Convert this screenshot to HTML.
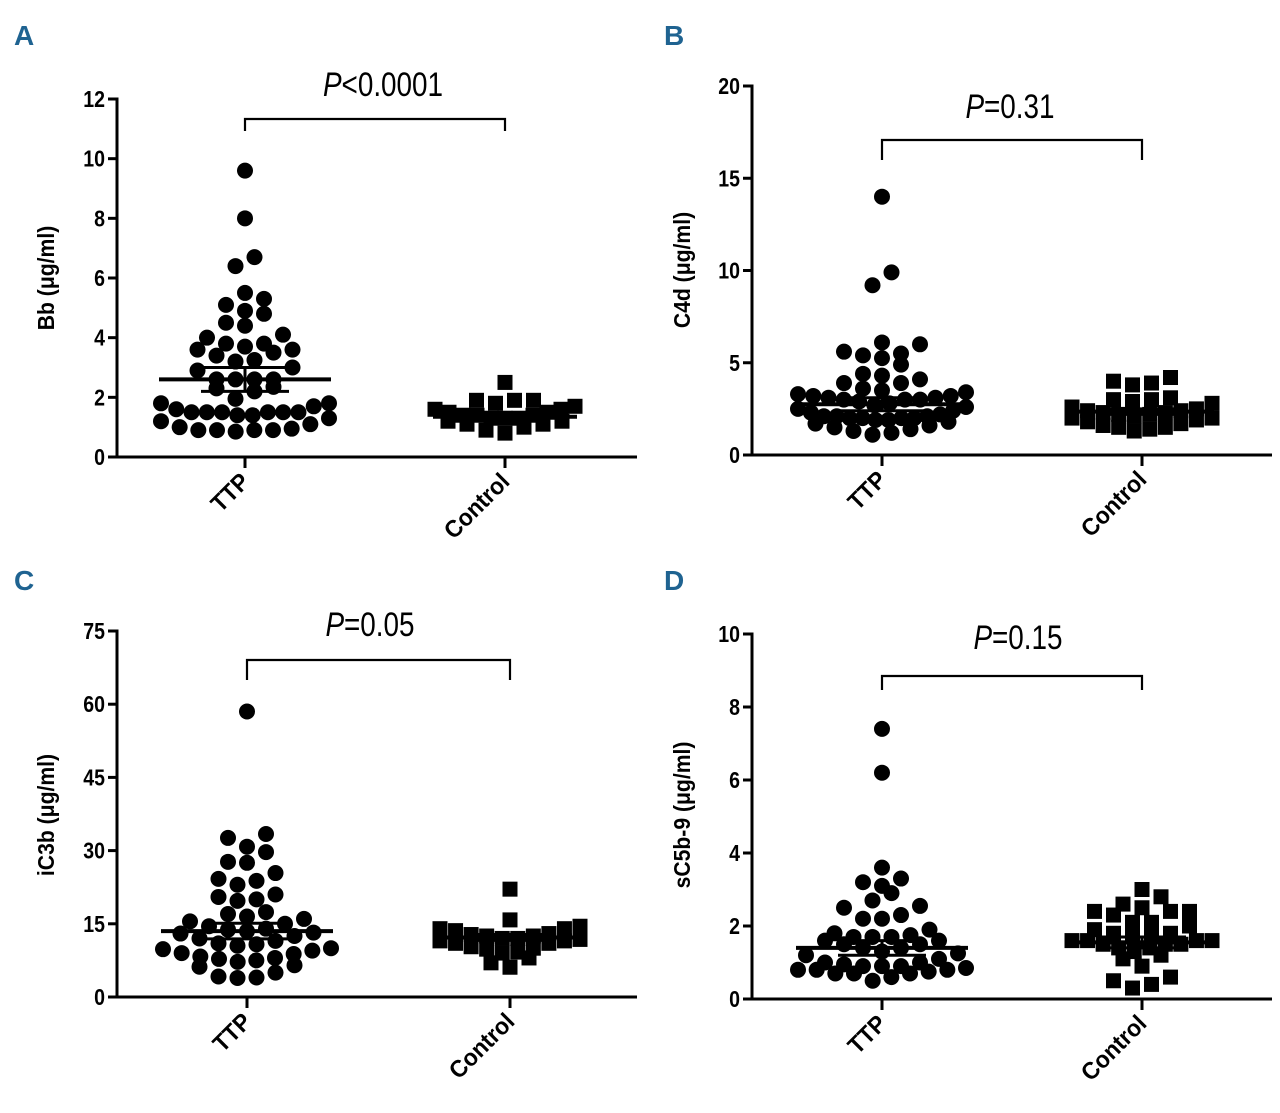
<!DOCTYPE html>
<html><head><meta charset="utf-8"><style>
html,body{margin:0;padding:0;background:#fff;}
svg{display:block;font-family:"Liberation Sans",sans-serif;}
</style></head><body>
<svg id="fig" width="1280" height="1113" viewBox="0 0 1280 1113"></svg>
<script>
// ---- data ----
const categories = ["TTP", "Control"];
const panelLetters = ["A", "B", "C", "D"];
const yTitles = ["Bb (\u03bcg/ml)", "C4d (\u03bcg/ml)", "iC3b (\u03bcg/ml)", "sC5b-9 (\u03bcg/ml)"];
const pLabels = ["<0.0001", "=0.31", "=0.05", "=0.15"];
const yMaxes = [12, 20, 75, 10];
const tickA = [0, 2, 4, 6, 8, 10, 12];
const tickB = [0, 5, 10, 15, 20];
const tickC = [0, 15, 30, 45, 60, 75];
const tickD = [0, 2, 4, 6, 8, 10];
const ttpA = [9.6,8.0,6.7,6.4,5.5,5.3,5.1,4.9,4.8,4.5,4.4,4.1,4.0,3.8,3.8,3.7,3.6,3.6,3.5,3.4,3.25,3.2,3.0,2.9,2.6,2.6,2.6,2.6,2.35,2.3,2.2,1.95,1.8,1.8,1.7,1.6,1.5,1.5,1.5,1.5,1.5,1.5,1.4,1.4,1.3,1.2,1.1,1.0,0.95,0.9,0.9,0.9,0.9,0.85];
const ctlA = [2.5,1.9,1.9,1.9,1.8,1.7,1.6,1.6,1.5,1.5,1.4,1.4,1.4,1.3,1.3,1.3,1.2,1.2,1.1,1.1,1.0,0.9,0.8];
const ttpB = [14,9.9,9.2,6.1,6.0,5.6,5.5,5.4,5.25,4.9,4.4,4.3,4.1,3.9,3.9,3.6,3.5,3.4,3.3,3.2,3.2,3.1,3.1,3.0,3.0,3.0,2.9,2.8,2.7,2.6,2.5,2.4,2.3,2.2,2.1,2.1,2.1,2.0,2.0,2.0,2.0,1.9,1.9,1.8,1.7,1.6,1.5,1.4,1.3,1.2,1.1];
const ctlB = [4.2,4.0,3.9,3.8,3.1,3.0,3.0,2.9,2.8,2.6,2.5,2.4,2.4,2.3,2.3,2.2,2.2,2.1,2.0,2.0,1.9,1.8,1.7,1.6,1.5,1.5,1.4,1.3];
const ttpC = [58.5,33.4,32.6,30.8,29.7,27.7,27.5,25.4,24.2,23.8,23,21,20.5,20,19.7,17.4,17,16.5,16,15.5,15,14.5,14,13.8,13.5,13.2,13,12.5,12,11.5,11,10.8,10.5,10,9.8,9.5,9,8.8,8.3,8,7.8,7.5,7.2,6.5,6.2,5,4.2,4,3.9];
const ctlC = [22.1,15.8,14.5,14,14,13.6,13,12.8,12.5,12.5,12,12,11.8,11.5,11.5,11,11,10.3,10,9.8,9.2,9,8,7,6.1];
const ttpD = [7.4,6.2,3.6,3.3,3.2,3.1,2.9,2.7,2.55,2.5,2.3,2.2,2.2,1.9,1.8,1.75,1.7,1.7,1.7,1.6,1.6,1.5,1.5,1.4,1.4,1.3,1.25,1.2,1.1,1.0,1.0,0.95,0.9,0.9,0.9,0.85,0.8,0.8,0.8,0.75,0.7,0.7,0.7,0.6,0.5];
const ctlD = [3.0,2.8,2.6,2.5,2.4,2.4,2.4,2.3,2.1,2.1,2.0,1.9,1.8,1.8,1.7,1.7,1.6,1.6,1.6,1.6,1.5,1.5,1.5,1.4,1.4,1.3,1.2,1.1,0.9,0.6,0.5,0.4,0.3];
// printed summary statistics (mean, SEM)
const meansTTP = [2.6, 2.75, 13.5, 1.4];
const meansCtl = [1.35, 2.35, 12.2, 1.55];
const semTTP = [0.4, 0.35, 1.6, 0.2];
const semCtl = [0.1, 0.15, 0.6, 0.15];

// ---- layout ----
const NS = "http://www.w3.org/2000/svg";
const svg = document.getElementById("fig");
function mk(tag, attrs, parent) {
  const e = document.createElementNS(NS, tag);
  for (const k in attrs) e.setAttribute(k, attrs[k]);
  (parent || svg).appendChild(e);
  return e;
}
const layouts = [
  {ax: 117, y0: 457, yTop: 99, x1: 245, x2: 505, xEnd: 637, brY: 119, brDrop: 12, pX: 383, pY: 96, letX: 14, letY: 45, titX: 56, titY: 278},
  {ax: 752, y0: 455, yTop: 86, x1: 882, x2: 1142, xEnd: 1272, brY: 140, brDrop: 20, pX: 1010, pY: 118, letX: 664, letY: 45, titX: 692, titY: 270},
  {ax: 117, y0: 997, yTop: 631, x1: 247, x2: 510, xEnd: 637, brY: 660, brDrop: 20, pX: 370, pY: 636, letX: 14, letY: 590, titX: 56, titY: 815},
  {ax: 752, y0: 999, yTop: 634, x1: 882, x2: 1142, xEnd: 1272, brY: 676, brDrop: 14, pX: 1018, pY: 649, letX: 664, letY: 590, titX: 692, titY: 815}
];
const ticksAll = [tickA, tickB, tickC, tickD];
const seriesAll = [[ttpA, ctlA], [ttpB, ctlB], [ttpC, ctlC], [ttpD, ctlD]];
const meansAll = [meansTTP, meansCtl];
const semAll = [semTTP, semCtl];

function swarm(vals, yScale, binH, step, maxHalf) {
  const sorted = vals.slice().sort((a, b) => a - b);
  const bins = [];
  sorted.forEach(v => {
    const y = yScale(v);
    const last = bins[bins.length - 1];
    if (last && Math.abs(last.y0 - y) < binH) last.items.push(y);
    else bins.push({y0: y, items: [y]});
  });
  const pts = [];
  bins.forEach(b => {
    const n = b.items.length;
    let s = step;
    if ((n - 1) * s / 2 > maxHalf) s = 2 * maxHalf / (n - 1);
    const offs = [];
    for (let k = 0; k < n; k++) offs.push((k - (n - 1) / 2) * s);
    offs.sort((a, b) => Math.abs(a) - Math.abs(b));
    const ys = b.items.slice().sort((a, b) => b - a);
    ys.forEach((y, k) => pts.push({x: offs[k], y: y}));
  });
  return pts;
}

layouts.forEach((L, i) => {
  const g = mk("g", {});
  
  
  const yScale = v => L.y0 - v / yMaxes[i] * (L.y0 - L.yTop);

  const let_ = mk("text", {x: L.letX, y: L.letY, "font-size": 28, "font-weight": "bold", fill: "#1f6391"}, g);
  let_.textContent = panelLetters[i];
  
  

  const yAxis = mk("line", {x1: L.ax, y1: L.yTop - 1.5, x2: L.ax, y2: L.y0 + 1.5, stroke: "#000", "stroke-width": 3}, g);
  
  
  const xAxis = mk("line", {x1: L.ax, y1: L.y0, x2: L.xEnd, y2: L.y0, stroke: "#000", "stroke-width": 3}, g);
  
  

  ticksAll[i].forEach(t => {
    const y = yScale(t);
    mk("line", {x1: L.ax - 9, y1: y, x2: L.ax, y2: y, stroke: "#000", "stroke-width": 3}, g);
    const tl = mk("text", {x: 0, y: 0, "font-size": 23, "font-weight": "bold", "text-anchor": "end", transform: `translate(${L.ax - 12},${y + 8}) scale(0.85,1)`}, g);
    tl.textContent = t;
    
    
  });

  const tt = mk("text", {x: 0, y: 0, "font-size": 23, "font-weight": "bold", "text-anchor": "middle", transform: `translate(${L.titX - 2},${L.titY}) rotate(-90) scale(0.92,1)`}, g);
  tt.textContent = yTitles[i];
  
  

  const xs = [L.x1, L.x2];
  categories.forEach((c, j) => {
    mk("line", {x1: xs[j], y1: L.y0, x2: xs[j], y2: L.y0 + 11, stroke: "#000", "stroke-width": 3}, g);
    const xl = mk("text", {x: 0, y: 0, "font-size": 24, "font-weight": "bold", "text-anchor": "end", transform: `translate(${xs[j] + 6},${L.y0 + 26}) rotate(-45) scale(0.95,1)`}, g);
    xl.textContent = c;
    
    
  });

  const br = mk("path", {d: `M${L.x1},${L.brY + L.brDrop} V${L.brY} H${L.x2} V${L.brY + L.brDrop}`, fill: "none", stroke: "#000", "stroke-width": 2.2}, g);
  
  
  const pt = mk("text", {x: 0, y: 0, "font-size": 34, "text-anchor": "middle", transform: `translate(${L.pX},${L.pY}) scale(0.82,1)`}, g);
  pt.innerHTML = '<tspan font-style="italic">P</tspan>' + pLabels[i];
  
  

  seriesAll[i].forEach((vals, j) => {
    const pts = swarm(vals, yScale, 14, 19, j === 0 ? 84 : 70);
    pts.forEach(p => {
      let m;
      if (j === 0) m = mk("circle", {cx: xs[j] + p.x, cy: p.y, r: 8, fill: "#000"}, g);
      else m = mk("rect", {x: xs[j] + p.x - 7.5, y: p.y - 7.5, width: 15, height: 15, fill: "#000"}, g);
      
      
    });
    const mean = meansAll[j][i], sem = semAll[j][i];
    const hw = j === 0 ? 86 : 72;
    const my = yScale(mean), up = yScale(mean + sem), lo = yScale(mean - sem);
    const ml = mk("line", {x1: xs[j] - hw, y1: my, x2: xs[j] + hw, y2: my, stroke: "#000", "stroke-width": 4}, g);
    
    
    const eb = mk("path", {d: `M${xs[j] - 44},${up} H${xs[j] + 44} M${xs[j] - 44},${lo} H${xs[j] + 44} M${xs[j]},${up} V${lo}`, stroke: "#000", "stroke-width": 3, fill: "none"}, g);
    
    
  });
});
</script>
</body></html>
